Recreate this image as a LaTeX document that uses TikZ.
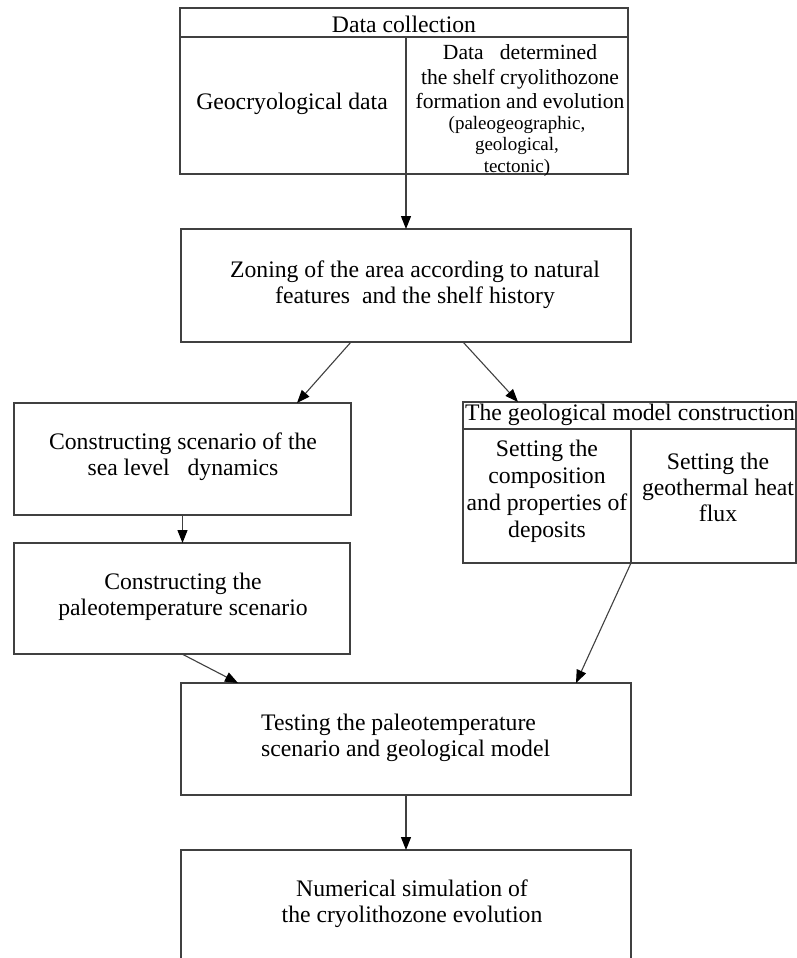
\documentclass[tikz,border=0pt]{standalone}
\usepackage{fontspec}
\setmainfont{Liberation Serif}
\usetikzlibrary{arrows.meta,calc}
\definecolor{linec}{gray}{0.25}
\tikzset{
  box/.style={draw=linec, line width=1.1pt, inner sep=0pt, outer sep=0pt, anchor=north west},
  txt/.style={inner sep=0pt, align=center, font=\fontsize{23.7}{26}\selectfont},
  divider/.style={draw=linec, line width=1.1pt},
  arr/.style={draw=linec, line width=1.1pt, -{Triangle[length=13pt,width=10pt,fill=black,color=black]}}
}
\begin{document}
\begin{tikzpicture}[x=1pt,y=-1pt]
\fill[white] (0,0) rectangle (797,958);
\clip (0,0) rectangle (797,958);
% boxes
\node[box, minimum width=448pt, minimum height=166pt] (dc) at (180,8) {};
\node[box, minimum width=450pt, minimum height=113pt] (zoning) at (181,229) {};
\node[box, minimum width=337pt, minimum height=112pt] (sea) at (14,403) {};
\node[box, minimum width=336pt, minimum height=111pt] (paleo) at (14,543) {};
\node[box, minimum width=333pt, minimum height=161pt] (geo) at (463,402) {};
\node[box, minimum width=450pt, minimum height=112pt] (test) at (181,683) {};
\node[box, minimum width=450pt, minimum height=140pt] (num) at (181,850) {};
% dividers
\coordinate (dcdiv) at (406,37);
\coordinate (geodiv) at (631,429);
\draw[divider] (dc.north west |- dcdiv) -- (dc.north east |- dcdiv);
\draw[divider] (dcdiv) -- (dcdiv |- dc.south);
\draw[divider] (geo.north west |- geodiv) -- (geo.north east |- geodiv);
\draw[divider] (geodiv) -- (geodiv |- geo.south);
% texts
\node[txt] (t1) at (404,24) {Data collection};
\node[txt] (t2) at (292,104) {Geocryological data};
\node[txt, font=\fontsize{21.6}{24.5}\selectfont] (t3) at (520,77) {Data\ \ \ determined\\the shelf cryolithozone\\formation and evolution};
\node[txt, font=\fontsize{19}{21.5}\selectfont] (t4) at (517,146) {(paleogeographic,\\geological,\\tectonic)};
\node[txt] (t5) at (415,285) {Zoning of the area according to natural\\features\ \ and the shelf history};
\node[txt] (t6) at (183,457) {Constructing scenario of the\\sea level\ \ \ dynamics};
\node[txt] (t7) at (183,597) {Constructing the\\paleotemperature scenario};
\node[txt] (t8) at (630,415) {The geological model construction};
\node[txt, font=\fontsize{23.7}{27}\selectfont] (t9) at (547,491) {Setting the\\composition\\and properties of\\deposits};
\node[txt] (t10) at (718,487) {Setting the\\geothermal heat\\flux};
\node[txt, align=left, anchor=west] (t11) at (261,738) {Testing the paleotemperature\\scenario and geological model};
\node[txt] (t12) at (412,904) {Numerical simulation of\\the cryolithozone evolution};
% connectors
\draw[arr] (dcdiv |- dc.south) -- (dcdiv |- zoning.north);
\draw[arr] ([xshift=170pt]zoning.south west) -- ([xshift=-54pt]sea.north east);
\draw[arr] ([xshift=-168pt]zoning.south east) -- ([xshift=55pt]geo.north west);
\draw[arr] (sea.south) -- (sea.south |- paleo.north);
\draw[arr] ([xshift=168pt]paleo.south west) -- ([xshift=57pt]test.north west);
\draw[arr] (geodiv |- geo.south) -- ([xshift=-55pt]test.north east);
\draw[arr] (test.south) -- (num.north);
\end{tikzpicture}
\end{document}
